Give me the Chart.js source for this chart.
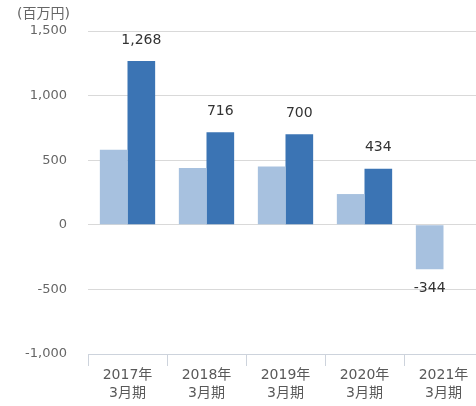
<!DOCTYPE html>
<html>
<head>
<meta charset="utf-8">
<script src="https://cdn.jsdelivr.net/npm/chart.js@4"></script>
<style>
  html, body { margin: 0; padding: 0; background: #fff; overflow: hidden; }
  canvas { display: block; }
</style>
</head>
<body>
<canvas id="chart" width="484" height="406"></canvas>
<script>
const categories = [['2017年', '3月期'], ['2018年', '3月期'], ['2019年', '3月期'], ['2020年', '3月期'], ['2021年', '3月期']];
const lightValues = [580, 440, 452, 238, -344];
const darkValues = [1268, 716, 700, 434, null];
const yTicks = [-1000, -500, 0, 500, 1000, 1500];
const unitLabel = '(百万円)';

const FONT = "'DejaVu Sans', 'Noto Sans CJK JP', sans-serif";

const fmt = v => v.toLocaleString('en-US');

// value labels + unit text
const labelPlugin = {
  id: 'valueLabels',
  afterDatasetsDraw(chart) {
    const ctx = chart.ctx;
    ctx.save();
    ctx.font = '14px ' + FONT;
    ctx.fillStyle = '#333';
    ctx.textAlign = 'center';
    ctx.textBaseline = 'middle';
    const darkMeta = chart.getDatasetMeta(1);
    const lightMeta = chart.getDatasetMeta(0);
    darkValues.forEach((v, i) => {
      if (v == null) return;
      const bar = darkMeta.data[i];
      ctx.fillText(fmt(v), bar.x, bar.y - 21);
    });
    // last period has only the light bar labelled
    const i = lightValues.length - 1;
    const bar = lightMeta.data[i];
    ctx.fillText(fmt(lightValues[i]), bar.x, bar.y + 19);

    ctx.font = '14px ' + FONT;
    ctx.fillStyle = '#666';
    ctx.textAlign = 'left';
    ctx.fillText(unitLabel, 17, 14);
    ctx.restore();
  }
};

new Chart(document.getElementById('chart').getContext('2d'), {
  type: 'bar',
  data: {
    labels: categories,
    datasets: [
      { data: lightValues, backgroundColor: '#a7c1df' },
      { data: darkValues, backgroundColor: '#3b74b4' }
    ]
  },
  options: {
    responsive: false,
    animation: false,
    devicePixelRatio: 1,
    layout: { padding: { top: 31, left: 0, right: 1, bottom: 4 } },
    datasets: { bar: { categoryPercentage: 0.7, barPercentage: 1.0 } },
    plugins: { legend: { display: false }, tooltip: { enabled: false } },
    scales: {
      x: {
        grid: { offset: true, drawOnChartArea: false, drawTicks: true, tickLength: 12, color: '#cdd3dc' },
        border: { color: '#cdd3dc' },
        ticks: { color: '#595959', font: { family: FONT, size: 14, lineHeight: '18px' }, padding: 0, maxRotation: 0 }
      },
      y: {
        min: -1000,
        max: 1500,
        afterBuildTicks: s => { s.ticks = yTicks.map(v => ({ value: v })); },
        afterFit: s => { s.width = 88; },
        grid: { color: '#d9d9d9', drawTicks: false },
        border: { display: false },
        ticks: { color: '#666', font: { family: FONT, size: 13 }, padding: 21, callback: v => fmt(v) }
      }
    }
  },
  plugins: [labelPlugin]
});
</script>
</body>
</html>
